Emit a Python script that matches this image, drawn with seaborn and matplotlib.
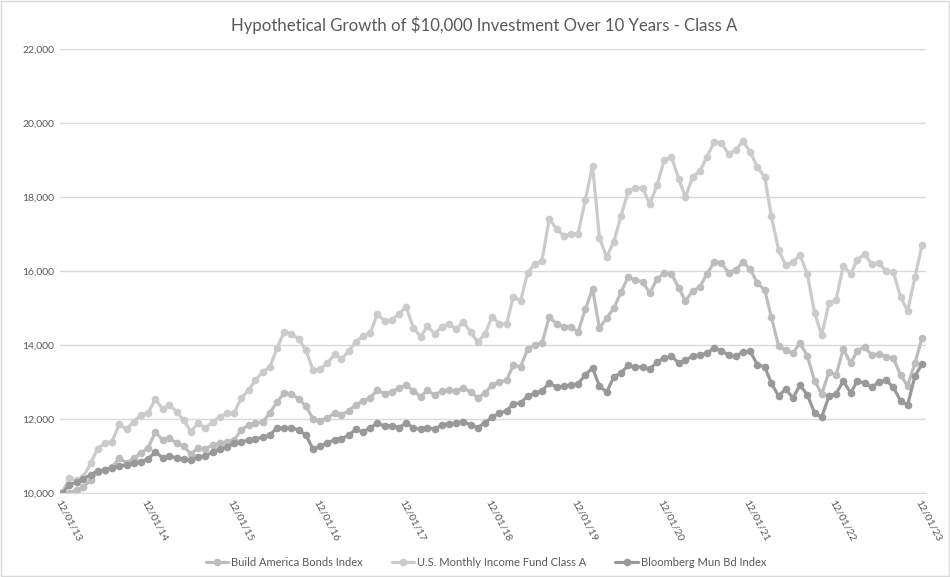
import pandas as pd
import matplotlib
matplotlib.use("Agg")
import matplotlib.pyplot as plt
import matplotlib.dates as mdates
import seaborn as sns

# monthly values, 12/01/13 .. 12/01/23
us_monthly = [10000, 10400, 10350, 10440, 10800, 11200, 11350, 11390, 11860, 11720, 11930, 12110,
              12160, 12540, 12270, 12380, 12200, 11970, 11660, 11890, 11750, 11920, 12050, 12160,
              12160, 12570, 12780, 13050, 13270, 13400, 13920, 14350, 14300, 14160, 13860, 13320,
              13350, 13510, 13760, 13620, 13840, 14080, 14240, 14320, 14840, 14650, 14680, 14840,
              15030, 14460, 14220, 14510, 14300, 14490, 14570, 14430, 14620, 14350, 14080, 14300,
              14760, 14570, 14570, 15300, 15190, 15950, 16190, 16280, 17410, 17140, 16950, 17000,
              17000, 17920, 18840, 16890, 16380, 16790, 17490, 18160, 18240, 18240, 17810, 18320,
              19000, 19080, 18490, 18000, 18540, 18700, 19080, 19490, 19460, 19160, 19270, 19510,
              19220, 18810, 18540, 17490, 16570, 16160, 16240, 16430, 15920, 14860, 14270, 15130,
              15220, 16140, 15920, 16300, 16460, 16190, 16220, 16000, 15970, 15300, 14920, 15840,
              16700]
build_america = [10000, 10000, 10080, 10160, 10350, 10570, 10620, 10700, 10940, 10810, 10940, 11080,
                 11220, 11650, 11430, 11480, 11350, 11270, 11050, 11220, 11190, 11300, 11350, 11380,
                 11430, 11700, 11840, 11890, 11920, 12160, 12460, 12700, 12680, 12540, 12350, 12000,
                 11950, 12030, 12160, 12110, 12220, 12380, 12490, 12570, 12780, 12680, 12730, 12840,
                 12920, 12760, 12600, 12780, 12650, 12760, 12780, 12760, 12840, 12730, 12570, 12700,
                 12920, 13000, 13050, 13460, 13410, 13890, 14000, 14050, 14760, 14570, 14490, 14490,
                 14350, 14970, 15510, 14460, 14730, 15000, 15430, 15840, 15760, 15700, 15410, 15780,
                 15950, 15920, 15540, 15190, 15460, 15570, 15920, 16240, 16220, 15950, 16030, 16240,
                 16050, 15670, 15490, 14760, 13970, 13860, 13780, 14050, 13700, 13030, 12680, 13270,
                 13190, 13890, 13510, 13840, 13950, 13730, 13760, 13680, 13650, 13190, 12890, 13510,
                 14190]
bloomberg = [10000, 10220, 10300, 10380, 10490, 10600, 10620, 10680, 10730, 10760, 10810, 10840,
             10920, 11110, 10950, 11000, 10950, 10920, 10890, 10970, 11000, 11110, 11190, 11240,
             11350, 11380, 11430, 11460, 11510, 11570, 11760, 11760, 11760, 11700, 11570, 11180,
             11270, 11360, 11440, 11470, 11560, 11720, 11650, 11760, 11890, 11810, 11820, 11770,
             11890, 11760, 11720, 11770, 11720, 11840, 11870, 11900, 11920, 11850, 11770, 11900,
             12050, 12160, 12220, 12410, 12430, 12620, 12700, 12760, 12970, 12860, 12890, 12920,
             12950, 13190, 13380, 12890, 12730, 13140, 13240, 13460, 13400, 13410, 13350, 13540,
             13650, 13700, 13510, 13590, 13700, 13730, 13780, 13920, 13840, 13730, 13700, 13810,
             13840, 13460, 13410, 12970, 12620, 12810, 12570, 12920, 12650, 12160, 12050, 12620,
             12680, 13030, 12700, 13030, 12970, 12860, 13000, 13050, 12860, 12490, 12380, 13160,
             13490]

series_names = ["Build America Bonds Index", "U.S. Monthly Income Fund Class A", "Bloomberg Mun Bd Index"]
series_colors = ["#bdbdbd", "#cbcbcb", "#999999"]

dates = pd.date_range("2013-12-01", periods=len(us_monthly), freq="MS")
df = pd.DataFrame({"date": dates,
                   series_names[0]: build_america,
                   series_names[1]: us_monthly,
                   series_names[2]: bloomberg})
long = df.melt(id_vars="date", var_name="series", value_name="value")

sns.set_style("white")
plt.rcParams["font.family"] = ["Lato", "DejaVu Sans"]
txt = "#595959"

fig = plt.figure(figsize=(9.5, 5.77), dpi=100)
ax = fig.add_axes([60 / 950, 1 - 493 / 577, 866 / 950, 444 / 577])

sns.lineplot(data=long, x="date", y="value", hue="series", hue_order=series_names,
             palette=series_colors, marker="o", markersize=5.5, markeredgewidth=0,
             linewidth=2.3, ax=ax)

ax.set_ylim(10000, 22000)
ax.set_yticks(range(10000, 22001, 2000))
ax.set_yticklabels([f"{v:,}" for v in range(10000, 22001, 2000)], fontsize=7.5, color=txt)
ax.yaxis.grid(True, color="#d9d9d9", linewidth=1)
ax.set_xlim(dates[0] - pd.Timedelta(days=9), dates[-1] + pd.Timedelta(days=17))
ax.xaxis.set_major_locator(mdates.MonthLocator(bymonth=12, bymonthday=1))
ax.xaxis.set_major_formatter(mdates.DateFormatter("%m/%d/%y"))
plt.setp(ax.get_xticklabels(), rotation=-62, ha="left", va="top", rotation_mode="anchor",
         fontsize=7.5, color=txt)
ax.tick_params(axis="both", length=0, pad=4)
ax.set_xlabel("")
ax.set_ylabel("")
for s in ax.spines.values():
    s.set_visible(False)
ax.spines["bottom"].set_visible(True)
ax.spines["bottom"].set_color("#d9d9d9")

handles, labels = ax.get_legend_handles_labels()
ax.legend(handles, labels, loc="center", bbox_to_anchor=(486 / 950, 15 / 577),
          bbox_transform=fig.transFigure, ncol=3, frameon=False, fontsize=8,
          labelcolor=txt, handlelength=2.0, columnspacing=2.6, handletextpad=0.3)

fig.text(484 / 950, 1 - 25 / 577, "Hypothetical Growth of $10,000 Investment Over 10 Years - Class A",
         ha="center", va="center", fontsize=12.1, color=txt)

fig.patches.append(plt.Rectangle((0.001, 0.001), 0.998, 0.998, transform=fig.transFigure,
                                 fill=False, edgecolor="#d9d9d9", linewidth=1))

fig.savefig("out.png", dpi=100)
